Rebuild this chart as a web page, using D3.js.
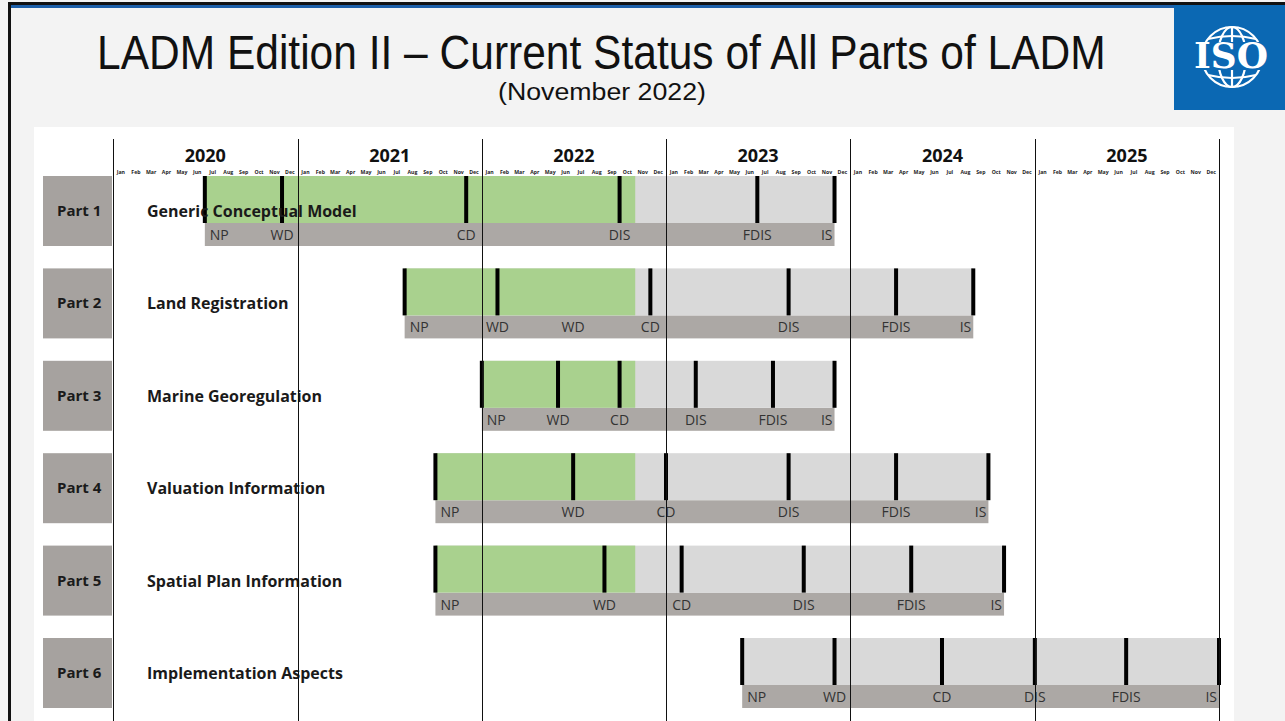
<!DOCTYPE html>
<html>
<head>
  <meta charset="utf-8">
  <title>LADM Edition II status</title>
  <script src="https://cdn.jsdelivr.net/npm/d3@7"></script>
  <style>
    body { margin: 0; background: #f3f3f3; }
    svg text { font-family: "Open Sans", sans-serif; }
  </style>
</head>
<body>
<div id="chart"></div>
<script>
// ---- data ----
var years = ["2020", "2021", "2022", "2023", "2024", "2025"];
var monthNames = ["Jan","Feb","Mar","Apr","May","Jun","Jul","Aug","Sep","Oct","Nov","Dec"];
var parts = ["Part 1", "Part 2", "Part 3", "Part 4", "Part 5", "Part 6"];
var titles = ["Generic Conceptual Model", "Land Registration", "Marine Georegulation",
              "Valuation Information", "Spatial Plan Information", "Implementation Aspects"];
var statusDate = "2022-11";   // green = done until here

// stages per part: [label, month, draw tick?]
var stages = [
  [["NP","2020-07",1],["WD","2020-12",1],["CD","2021-12",1],["DIS","2022-10",1],["FDIS","2023-07",1],["IS","2023-12",1]],
  [["NP","2021-08",1],["WD","2022-02",1],["WD","2022-07",0],["CD","2022-12",1],["DIS","2023-09",1],["FDIS","2024-04",1],["IS","2024-09",1]],
  [["NP","2022-01",1],["WD","2022-06",1],["CD","2022-10",1],["DIS","2023-03",1],["FDIS","2023-08",1],["IS","2023-12",1]],
  [["NP","2021-10",1],["WD","2022-07",1],["CD","2023-01",1],["DIS","2023-09",1],["FDIS","2024-04",1],["IS","2024-10",1]],
  [["NP","2021-10",1],["WD","2022-09",1],["CD","2023-02",1],["DIS","2023-10",1],["FDIS","2024-05",1],["IS","2024-11",1]],
  [["NP","2023-06",1],["WD","2023-12",1],["CD","2024-07",1],["DIS","2025-01",1],["FDIS","2025-07",1],["IS","2026-01",1]]
];

var W = 1285, H = 721;
var parse = d3.timeParse("%Y-%m");

var svg = d3.select("#chart").append("svg")
  .attr("width", W).attr("height", H);

// slide background + frame
svg.append("rect").attr("width", W).attr("height", H).attr("fill", "#f3f3f3");
svg.append("rect").attr("x", 8).attr("y", 2).attr("width", W - 8).attr("height", 3).attr("fill", "#111");
svg.append("rect").attr("x", 8).attr("y", 5).attr("width", 1166).attr("height", 3).attr("fill", "#1d5fa8");
svg.append("rect").attr("x", 8).attr("y", 2).attr("width", 3).attr("height", H).attr("fill", "#111");

// ISO logo
var logo = svg.append("g").attr("transform", "translate(1174,5)");
logo.append("rect").attr("width", 111).attr("height", 105).attr("fill", "#0b68b3");
var globe = logo.append("g").attr("transform", "translate(58,52)")
  .attr("fill", "none").attr("stroke", "#fff").attr("stroke-width", 2.2);
globe.append("circle").attr("r", 30);
globe.append("ellipse").attr("rx", 14).attr("ry", 30);
globe.append("line").attr("x1", 0).attr("x2", 0).attr("y1", -30).attr("y2", 30);
globe.append("path").attr("d", "M-24,-18 Q0,-24 24,-18");
globe.append("path").attr("d", "M-24,18 Q0,24 24,18");
logo.append("rect").attr("x", 18).attr("y", 37).attr("width", 78).attr("height", 28).attr("fill", "#0b68b3");
logo.append("text").attr("x", 20).attr("y", 63)
  .attr("textLength", 74).attr("lengthAdjust", "spacingAndGlyphs")
  .style("font-family", "'DejaVu Serif', serif").style("font-weight", "bold").style("font-size", "35px")
  .attr("fill", "#fff").text("ISO");

// title (condensed by scaling to the slide's width)
function narrowText(txt, x0, y0, size, width) {
  var t = svg.append("text")
    .style("font-family", "'Liberation Sans', Arial, sans-serif").style("font-size", size + "px")
    .attr("fill", "#111").text(txt);
  var w = t.node().getComputedTextLength();
  t.attr("transform", "translate(" + x0 + "," + y0 + ") scale(" + (width / w) + ",1)");
}
narrowText("LADM Edition II \u2013 Current Status of All Parts of LADM", 97, 69, 48, 1009);
narrowText("(November 2022)", 498, 100, 24, 208);

// white chart panel
svg.append("rect").attr("x", 34).attr("y", 127).attr("width", 1200).attr("height", H - 127).attr("fill", "#fff");

// scales
var x = d3.scaleTime().domain([parse("2020-01"), parse("2026-01")]).range([113, 1219]);
var y = d3.scaleBand().domain(parts).range([176, 708]).paddingInner(0.2424).paddingOuter(0);
var barH = y.bandwidth();      // ~70
var topH = 47;

// year + month header
var yearStarts = years.map(function(yr) { return parse(yr + "-01"); });
svg.selectAll(".year").data(years).enter().append("text")
  .attr("x", function(d) { return (x(parse(d + "-01")) + x(parse((+d + 1) + "-01"))) / 2; })
  .attr("y", 162).attr("text-anchor", "middle")
  .style("font-weight", "bold").style("font-size", "18px").attr("fill", "#111")
  .text(function(d) { return d; });

var months = d3.timeMonth.range(parse("2020-01"), parse("2026-01"));
svg.selectAll(".month").data(months).enter().append("text")
  .attr("x", function(d) { return (x(d) + x(d3.timeMonth.offset(d, 1))) / 2; })
  .attr("y", 174).attr("text-anchor", "middle")
  .style("font-weight", "bold").style("font-size", "5.2px").attr("fill", "#222")
  .text(function(d) { return monthNames[d.getMonth()]; });

// rows
var rows = svg.selectAll(".row").data(parts).enter().append("g")
  .attr("transform", function(d) { return "translate(0," + y(d) + ")"; });

rows.append("rect").attr("x", 43).attr("width", 69).attr("height", barH).attr("fill", "#a6a29f");
rows.append("text").attr("x", 57).attr("y", barH / 2 + 5)
  .style("font-weight", "bold").style("font-size", "15px").attr("fill", "#1a1a1a")
  .text(function(d) { return d; });

rows.each(function(p, i) {
  var g = d3.select(this);
  var st = stages[i];
  var x0 = x(parse(st[0][1])), x1 = x(parse(st[st.length - 1][1]));
  var now = x(parse(statusDate));
  // label strip
  g.append("rect").attr("x", x0).attr("y", topH).attr("width", x1 - x0).attr("height", barH - topH).attr("fill", "#aca8a5");
  // planned
  g.append("rect").attr("x", x0).attr("width", x1 - x0).attr("height", topH).attr("fill", "#d9d9d9");
  // done
  if (now > x0) {
    g.append("rect").attr("x", x0).attr("width", Math.min(now, x1) - x0).attr("height", topH).attr("fill", "#a9d18e");
  }
  // stage ticks
  g.selectAll(".tick").data(st.filter(function(s) { return s[2]; })).enter().append("rect")
    .attr("x", function(s) { return x(parse(s[1])) - 2; })
    .attr("width", 4).attr("height", topH).attr("fill", "#000");
  // stage labels
  g.selectAll(".lab").data(st).enter().append("text")
    .attr("x", function(s, k) {
      var xx = x(parse(s[1]));
      if (k === 0) return xx + 5;
      if (k === st.length - 1) return xx - 2;
      return xx;
    })
    .attr("y", barH - 6)
    .attr("text-anchor", function(s, k) { return k === 0 ? "start" : (k === st.length - 1 ? "end" : "middle"); })
    .style("font-size", "14px").attr("fill", "#333")
    .text(function(s) { return s[0]; });
});

// task names on top of bars
rows.append("text").attr("x", 147).attr("y", barH / 2 + 6)
  .style("font-weight", "bold").style("font-size", "16px").attr("fill", "#1a1a1a")
  .text(function(d, i) { return titles[i]; });

// year grid lines
var bounds = yearStarts.concat([parse("2026-01")]);
svg.selectAll(".grid").data(bounds).enter().append("line")
  .attr("x1", function(d) { return Math.round(x(d)) + 0.5; })
  .attr("x2", function(d) { return Math.round(x(d)) + 0.5; })
  .attr("y1", 139).attr("y2", H)
  .attr("stroke", "#111").attr("stroke-width", 1);
</script>
</body>
</html>
